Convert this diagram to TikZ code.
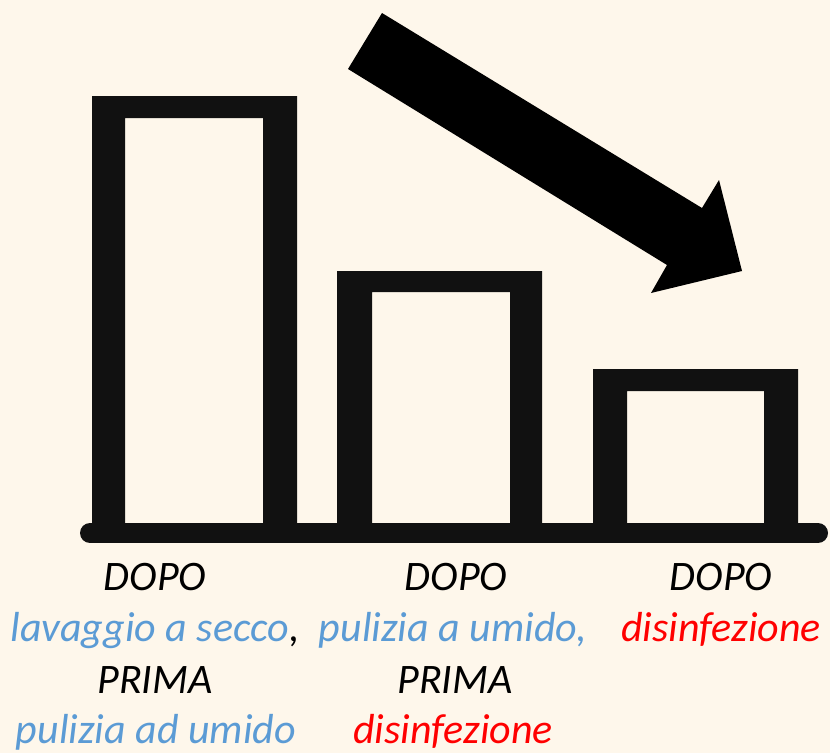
\documentclass[tikz,border=0pt]{standalone}
\usepackage{fontspec}
\setmainfont{Carlito}
\definecolor{bgcream}{RGB}{254,247,235}
\definecolor{barblack}{RGB}{17,17,17}
\definecolor{txtblue}{RGB}{91,155,213}
\definecolor{txtred}{RGB}{255,0,0}
\begin{document}
\begin{tikzpicture}[x=1pt,y=-1pt,
  lbl/.style={anchor=base,inner sep=0pt,font=\fontsize{42}{51}\selectfont\itshape},
  blk/.style={lbl,text=black},
  blu/.style={lbl,text=txtblue},
  rd/.style={lbl,text=txtred},
  barshape/.style={fill=barblack,even odd rule,draw=none}]
\fill[bgcream] (0,0) rectangle (830,753);
\useasboundingbox (0,0) rectangle (830,753);
% bars
\fill[barshape] (92,96) rectangle (297,524) (125,118) rectangle (263,524);
\fill[barshape] (337,271) rectangle (542,524) (372,292) rectangle (510,524);
\fill[barshape] (593,369) rectangle (798,524) (627,391) rectangle (764,524);
% baseline
\draw[barblack,line width=20pt,line cap=round] (90,533) -- (818,533);
% arrow
\fill[black] (382,13) -- (702,208) -- (719,180) -- (742,271) -- (651,293) -- (667,265) -- (348,69) -- cycle;
% labels column 1
\node[blk] (c1a) at (155,590) {DOPO};
\node[blu] (c1b) at (155,641) {lavaggio a secco\textcolor{black}{,}};
\node[blk] (c1c) at (155,693) {PRIMA};
\node[blu] (c1d) at (156,743) {pulizia ad umido};
% labels column 2
\node[blk] (c2a) at (456,590) {DOPO};
\node[blu] (c2b) at (453,641) {pulizia a umido,};
\node[blk] (c2c) at (455,693) {PRIMA};
\node[rd] (c2d) at (453,743) {disinfezione};
% labels column 3
\node[blk] (c3a) at (721,590) {DOPO};
\node[rd] (c3b) at (721,641) {disinfezione};
\end{tikzpicture}
\end{document}
